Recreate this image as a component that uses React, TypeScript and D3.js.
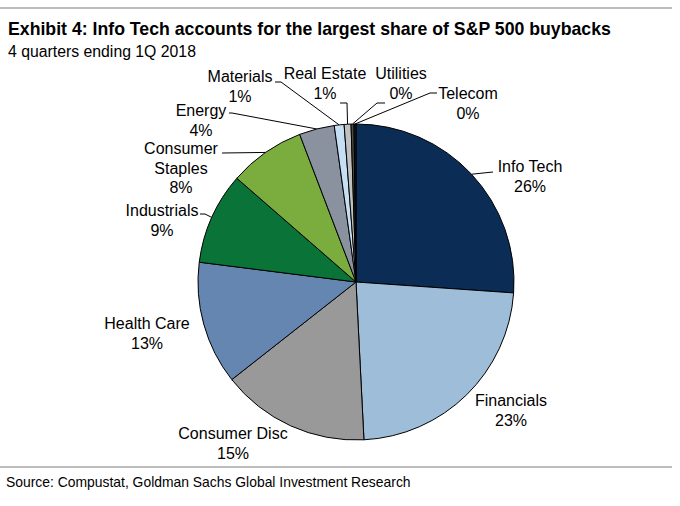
import React from "react";
import * as d3 from "d3";

const categories = ["Info Tech", "Financials", "Consumer Disc", "Health Care", "Industrials", "Consumer Staples", "Energy", "Materials", "Real Estate", "Utilities", "Telecom"];
const values = [26.1, 23.1, 15.2, 12.6, 9.4, 7.8, 3.6, 1.0, 0.7, 0.3, 0.2];
const percentLabels = ["26%", "23%", "15%", "13%", "9%", "8%", "4%", "1%", "1%", "0%", "0%"];
const colors = ["#0b2d55", "#9dbdd9", "#999999", "#6586b0", "#0a7438", "#7aad3e", "#8a929f", "#c5e0f4", "#c0c0c0", "#4a4a4a", "#1a1a1a"];

const W = 680, H = 506;
const cx = 356, cy = 282, R = 158;

// label layout: center x, first baseline, name lines, leader points (from label side toward pie)
const labelLayout: Record<string, { x: number; y: number; lines: string[]; leader?: [number, number][] }> = {
  "Info Tech": { x: 530, y: 172, lines: ["Info Tech"], leader: [[493, 172]] },
  "Financials": { x: 511, y: 406, lines: ["Financials"] },
  "Consumer Disc": { x: 233, y: 439, lines: ["Consumer Disc"] },
  "Health Care": { x: 147, y: 329, lines: ["Health Care"] },
  "Industrials": { x: 162, y: 216, lines: ["Industrials"], leader: [[200, 214], [205, 214]] },
  "Consumer Staples": { x: 181, y: 154, lines: ["Consumer", "Staples"], leader: [[222, 153]] },
  "Energy": { x: 201, y: 116, lines: ["Energy"], leader: [[229, 113], [232, 113]] },
  "Materials": { x: 240, y: 82, lines: ["Materials"], leader: [[275, 82], [281, 82]] },
  "Real Estate": { x: 325, y: 79, lines: ["Real Estate"], leader: [[340, 103], [347, 103]] },
  "Utilities": { x: 401, y: 79, lines: ["Utilities"], leader: [[385, 103], [377, 103]] },
  "Telecom": { x: 468, y: 99, lines: ["Telecom"], leader: [[437, 93], [430, 93]] },
};

export default function App() {
  const data = categories.map((c, i) => ({ name: c, value: values[i], pct: percentLabels[i], color: colors[i] }));
  const pie = d3.pie<any>().sort(null).value((d) => d.value).startAngle(0).endAngle(2 * Math.PI);
  const arcs = pie(data);
  const arc = d3.arc<any>().innerRadius(0).outerRadius(R);
  const font = "'Liberation Sans', Arial, sans-serif";
  const lh = 19.5;

  return (
    <div style={{ position: "absolute", left: 0, top: 0 }}>
      <svg width={W} height={H} style={{ display: "block", background: "#fff" }} fontFamily={font}>
        <line x1={0} x2={672} y1={8} y2={8} stroke="#bdbdbd" strokeWidth={2} />
        <text x={8} y={35} fontSize={17.7} fontWeight="bold" fill="#000">Exhibit 4: Info Tech accounts for the largest share of S&amp;P 500 buybacks</text>
        <text x={8} y={57} fontSize={15.8} fill="#000">4 quarters ending 1Q 2018</text>
        <g transform={`translate(${cx},${cy})`}>
          {arcs.map((a, i) => (
            <path key={i} d={arc(a) as string} fill={a.data.color} stroke="#000" strokeWidth={1} strokeLinejoin="round" />
          ))}
        </g>
        {arcs.map((a, i) => {
          const L = labelLayout[a.data.name];
          if (!L || !L.leader) return null;
          const mid = (a.startAngle + a.endAngle) / 2;
          const px = cx + R * Math.sin(mid);
          const py = cy - R * Math.cos(mid);
          const pts: [number, number][] = [...L.leader, [px, py]];
          return (
            <polyline key={"l" + i} points={pts.map((p) => p.join(",")).join(" ")} fill="none" stroke="#000" strokeWidth={1} />
          );
        })}
        {arcs.map((a, i) => {
          const L = labelLayout[a.data.name];
          const lines = [...L.lines, a.data.pct];
          return (
            <text key={"t" + i} x={L.x} y={L.y} fontSize={16} textAnchor="middle" fill="#000">
              {lines.map((s, j) => (
                <tspan key={j} x={L.x} dy={j === 0 ? 0 : lh}>{s}</tspan>
              ))}
            </text>
          );
        })}
        <line x1={0} x2={672} y1={467} y2={467} stroke="#bdbdbd" strokeWidth={2} />
        <text x={6} y={487} fontSize={13.9} fill="#000">Source: Compustat, Goldman Sachs Global Investment Research</text>
      </svg>
    </div>
  );
}
